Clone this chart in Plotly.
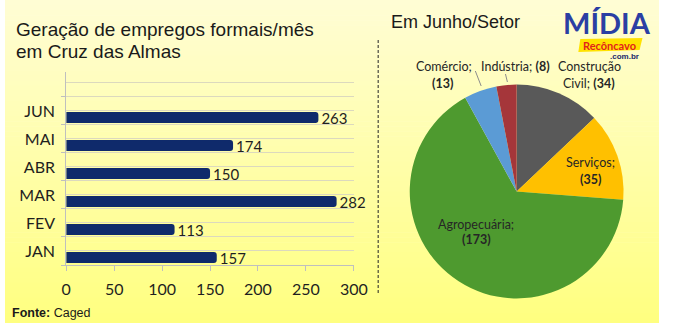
import plotly.graph_objects as go

# ---------------- data ----------------
months = ["JAN", "FEV", "MAR", "ABR", "MAI", "JUN"]
jobs = [157, 113, 282, 150, 174, 263]

sectors = ["Construção Civil", "Serviços", "Agropecuária", "Comércio", "Indústria"]
sector_values = [34, 35, 173, 13, 8]
sector_colors = ["#595959", "#FFC000", "#4E9A2F", "#5B9BD5", "#A5363A"]

x_ticks = [0, 50, 100, 150, 200, 250, 300]

W, H = 673, 328
def px(x):
    return x / W
def py(y):
    return 1 - y / H

NARROW = "Lato, sans-serif"
ARIAL = "Liberation Sans, Arial, sans-serif"

fig = go.Figure()

positions = list(range(len(months)))
fig.add_trace(go.Bar(
    x=jobs, y=positions, orientation="h",
    width=0.39, offset=-0.43,
    marker=dict(color="#0F2A6B", line=dict(width=0)),
    text=[str(v) for v in jobs], textposition="outside",
    constraintext="none",
    textfont=dict(family=NARROW, size=15, color="#1F1F1F"),
    cliponaxis=False, hoverinfo="skip",
    xaxis="x", yaxis="y",
))

fig.add_trace(go.Pie(
    labels=sectors, values=sector_values, sort=False, direction="clockwise",
    rotation=0, marker=dict(colors=sector_colors, line=dict(width=0)),
    textinfo="none", hoverinfo="skip", showlegend=False,
    domain=dict(x=[px(416.5), px(636.5)], y=[py(301.5), py(81.5)]),
))

# background gradient bands (pale yellow -> yellow)
shapes = []
top = (0xFF, 0xFD, 0xD4)
bot = (0xFF, 0xFF, 0x80)
N = 64
ybot = 323
for i in range(N):
    t = i / (N - 1)
    c = tuple(round(top[k] + (bot[k] - top[k]) * t) for k in range(3))
    y0 = ybot * i / N
    y1 = ybot * (i + 1) / N + 0.6
    shapes.append(dict(type="rect", xref="paper", yref="paper",
                       x0=0, x1=1, y0=py(min(y1, ybot)), y1=py(y0),
                       fillcolor="rgb(%d,%d,%d)" % c, line=dict(width=0),
                       layer="below"))
# dashed separator
shapes.append(dict(type="line", xref="paper", yref="paper",
                   x0=px(384), x1=px(384), y0=py(293), y1=py(40),
                   line=dict(color="#222222", width=1, dash="3px,2px")))

annotations = []
def ann(text, x, y, size, family=ARIAL, color="#1a1a1a", xanchor="left", yanchor="middle", **kw):
    annotations.append(dict(text=text, x=px(x), y=py(y), xref="paper", yref="paper",
                            showarrow=False, xanchor=xanchor, yanchor=yanchor,
                            font=dict(family=family, size=size, color=color), **kw))

# titles
ann("Geração de empregos formais/mês", 9, 30, 19)
ann("em Cruz das Almas", 9, 51, 19)
ann("Em Junho/Setor", 395, 22, 18)
ann("<b>Fonte:</b> Caged", 5, 313, 12.5)

# pie labels
lab_font = NARROW
lc = "#262626"
LS = 12.5
def lbl(i):
    return sectors[i], sector_values[i]
n, v = lbl(3)
ann(f"{n};", 452, 67, LS, lab_font, lc, xanchor="center")
ann(f"<b>({v})</b>", 450, 83, LS, lab_font, lc, xanchor="center")
n, v = lbl(4)
ann(f"{n}; <b>({v})</b>", 525, 67, LS, lab_font, lc, xanchor="center")
n, v = lbl(0)
w1, w2 = n.split(" ")
ann(w1, 601, 67, LS, lab_font, lc, xanchor="center")
ann(f"{w2}; <b>({v})</b>", 601, 83, LS, lab_font, lc, xanchor="center")
n, v = lbl(1)
ann(f"{n};", 603, 162, LS, lab_font, lc, xanchor="center")
ann(f"<b>({v})</b>", 602, 179, LS, lab_font, lc, xanchor="center")
n, v = lbl(2)
ann(f"{n};", 485, 224, LS, lab_font, lc, xanchor="center")
ann(f"<b>({v})</b>", 485, 239, LS, lab_font, lc, xanchor="center")

# leader lines
shapes.append(dict(type="line", xref="paper", yref="paper",
                   x0=px(484), x1=px(490), y0=py(71), y1=py(86),
                   line=dict(color="#8C8C8C", width=1)))
shapes.append(dict(type="line", xref="paper", yref="paper",
                   x0=px(515), x1=px(517), y0=py(74), y1=py(82),
                   line=dict(color="#8C8C8C", width=1)))

# logo
shapes.append(dict(type="path", xref="paper", yref="paper",
                   path="M %f,%f L %f,%f L %f,%f L %f,%f Z" % (
                       px(590), py(52), px(592), py(39), px(656), py(38), px(653), py(50)),
                   fillcolor="#FFE200", line=dict(width=0)))
ann("<b>MÍDIA</b>", 619, 22, 29, NARROW, "#2B3FA3", xanchor="center")
ann("<b>Recôncavo</b>", 622, 45, 11, NARROW, "#E2231A", xanchor="center")
ann("<b>.com.br</b>", 637, 56, 8, ARIAL, "#1B2A6B", xanchor="center")

fig.update_layout(
    width=W, height=H, margin=dict(l=0, r=0, t=0, b=0),
    paper_bgcolor="white", plot_bgcolor="rgba(0,0,0,0)",
    showlegend=False, barcornerradius=3,
    shapes=shapes, annotations=annotations,
    xaxis=dict(domain=[px(63), px(359)], range=[0, 300],
               tickvals=x_ticks, ticktext=[str(t) for t in x_ticks],
               showgrid=False, zeroline=False,
               showline=True, linecolor="#BFBFBF", linewidth=1,
               ticks="outside", ticklen=5, tickcolor="#BFBFBF",
               tickfont=dict(family=NARROW, size=16, color="#1F1F1F"),
               ticklabelstandoff=5, fixedrange=True),
    yaxis=dict(domain=[py(265), py(72)], range=[-0.5, 6.39],
               tickvals=positions + [6], ticktext=months + [""],
               showgrid=True, gridcolor="#DCD9BE", gridwidth=1,
               zeroline=False, showline=True, linecolor="#BFBFBF",
               ticks="", tickfont=dict(family=NARROW, size=16, color="#1F1F1F"),
               ticklabelstandoff=7,
               minor=dict(tickvals=[p - 0.5 for p in positions] + [5.5],
                          showgrid=True, gridcolor="#DCD9BE",
                          ticks="outside", ticklen=4, tickcolor="#BFBFBF"),
               fixedrange=True),
)

fig.write_html("out.html")
